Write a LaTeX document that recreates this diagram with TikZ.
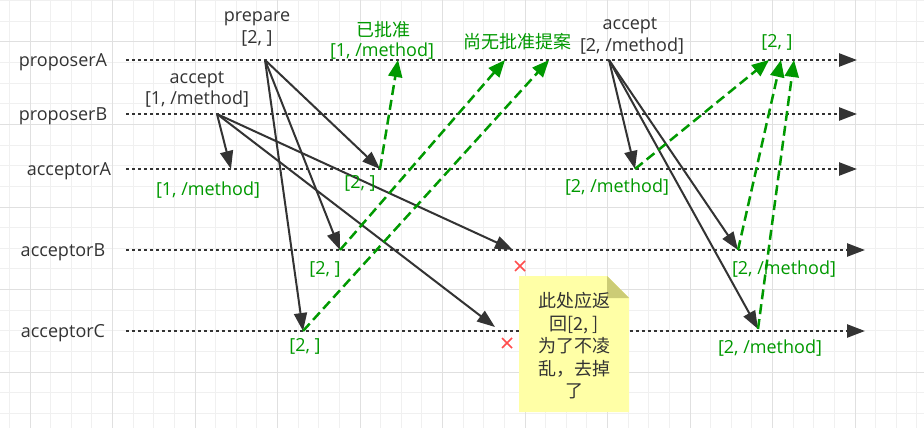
\documentclass[tikz,border=0pt]{standalone}
\usepackage{fontspec}
\setmainfont{Open Sans}
\newfontfamily\cjk{Noto Sans CJK SC}
\usetikzlibrary{arrows.meta,calc}
\definecolor{ink}{HTML}{333333}
\definecolor{grn}{HTML}{009900}
\definecolor{gridminor}{HTML}{F0F0F0}
\definecolor{gridmajor}{HTML}{E0E0E0}
\definecolor{notefill}{HTML}{FFFFA6}
\definecolor{notefold}{HTML}{CCCC76}
\definecolor{xred}{HTML}{FF4D4D}
\begin{document}
\begin{tikzpicture}[x=1pt,y=-1pt,
  lbl/.style={font=\fontsize{18}{21}\selectfont, text=ink, inner sep=0pt, text height=12.8pt, text depth=0pt},
  glbl/.style={lbl, text=grn},
  cjklbl/.style={glbl, font=\cjk\fontsize{18}{21}\selectfont},
  life/.style={draw=ink, line width=2.5pt, dash pattern=on 2.5pt off 3.5pt, -{Triangle[length=18pt,width=13pt]}},
  msg/.style={draw=ink, line width=2pt, -{Triangle[length=18pt,width=13pt]}},
  reply/.style={draw=grn, line width=2.5pt, dash pattern=on 10pt off 5pt, -{Triangle[length=17pt,width=14pt]}},
  xmark/.style={draw=xred, line width=1.5pt},
  ]
\useasboundingbox (0,0) rectangle (924,428);
\fill[white] (0,0) rectangle (924,428);
% grid
\foreach \i in {0,...,44} \draw[gridminor, line width=1pt] ({9.375+20.625*\i},0) -- ({9.375+20.625*\i},428);
\foreach \j in {0,...,20} \draw[gridminor, line width=1pt] (0,{0.75+20.625*\j}) -- (924,{0.75+20.625*\j});
\foreach \x in {30,112.5,195,277.5,360,442.5,525,607.5,690,772.5,855} \draw[gridmajor, line width=1pt] (\x,0) -- (\x,428);
\foreach \y in {42,124.5,207,289.5,372} \draw[gridmajor, line width=1pt] (0,\y) -- (924,\y);

% lifeline labels
\node[lbl] (lpA) at (63,60) {proposerA};
\node[lbl] (lpB) at (63,114) {proposerB};
\node[lbl] (laA) at (69,169) {acceptorA};
\node[lbl] (laB) at (63,250) {acceptorB};
\node[lbl] (laC) at (63,331) {acceptorC};

% lifelines
\coordinate (pA0) at (126,60);  \coordinate (pA1) at (857,60);
\coordinate (pB0) at (126,114); \coordinate (pB1) at (857,114);
\coordinate (aA0) at (126,169); \coordinate (aA1e) at (857,169);
\coordinate (aB0) at (126,250); \coordinate (aB1e) at (865,250);
\coordinate (aC0) at (126,331); \coordinate (aC1e) at (865,331);
\draw[life] (pA0) -- (pA1);
\draw[life] (pB0) -- (pB1);
\draw[life] (aA0) -- (aA1e);
\draw[life] (aB0) -- (aB1e);
\draw[life] (aC0) -- (aC1e);

% event points
\coordinate (prep) at (265,60);
\coordinate (acc1) at (217,114);
\coordinate (acc2) at (609,60);
\coordinate (aAp) at (380,169);
\coordinate (aBp) at (340,250);
\coordinate (aCp) at (303,331);
\coordinate (aA1) at (231,169);
\coordinate (aB1) at (513,250);
\coordinate (aC1) at (495,327);
\coordinate (aA2) at (635,169);
\coordinate (aB2) at (738,250);
\coordinate (aC2) at (758,329);
\coordinate (r1) at (398,60);
\coordinate (r2) at (505,60);
\coordinate (r3) at (549,60);
\coordinate (r4) at (769,60);
\coordinate (r5) at (781,60);
\coordinate (r6) at (794,60);

% black messages
\draw[msg] (prep) -- (aAp);
\draw[msg] (prep) -- (aBp);
\draw[msg] (prep) -- (aCp);
\draw[msg] (acc1) -- (aA1);
\draw[msg] (acc1) -- (aB1);
\draw[msg] (acc1) -- (aC1);
\draw[msg] (acc2) -- (aA2);
\draw[msg] (acc2) -- (aB2);
\draw[msg] (acc2) -- (aC2);

% green replies
\draw[reply] (aAp) -- (r1);
\draw[reply] (aBp) -- (r2);
\draw[reply] (aCp) -- (r3);
\draw[reply] (aA2) -- (r4);
\draw[reply] (aB2) -- (r5);
\draw[reply] (aC2) -- (r6);

% message labels
\node[lbl] (tprep) at (257,15) {prepare};
\node[lbl] (tprep2) at (257,37) {[2, ]};
\node[lbl] (tacc1) at (197,77) {accept};
\node[lbl] (tacc1b) at (197,98) {[1, /method]};
\node[lbl] (tacc2) at (630,23) {accept};
\node[lbl] (tacc2b) at (632,45) {[2, /method]};

% green labels
\node[glbl] (g1) at (208,189) {[1, /method]};
\node[glbl] (g2) at (360,182) {[2, ]};
\node[glbl] (g3) at (325,268) {[2, ]};
\node[glbl] (g4) at (305,345) {[2, ]};
\node[cjklbl] (g5) at (383,30) {已批准};
\node[glbl] (g6) at (382,50) {[1, /method]};
\node[cjklbl] (g7) at (517,42) {尚无批准提案};
\node[glbl] (g8) at (777,41) {[2, ]};
\node[glbl] (g9) at (617,186) {[2, /method]};
\node[glbl] (g10) at (784,268) {[2, /method]};
\node[glbl] (g11) at (770,347) {[2, /method]};

% note
\fill[notefill] (519,276) -- (607,276) -- (629,298) -- (629,412) -- (519,412) -- cycle;
\fill[notefold] (607,276) -- (629,298) -- (607,298) -- cycle;
\node[font=\cjk\fontsize{18}{22.5}\selectfont, text=ink, align=center, inner sep=0pt] (note) at (574,346)
  {此处应返\\回[2, ]\\为了不凌\\乱，去掉\\了};

% red crosses
\coordinate (x1) at (520,266);
\coordinate (x2) at (507,343);
\draw[xmark] ($(x1)+(-5,-5)$) -- ($(x1)+(5,5)$) ($(x1)+(-5,5)$) -- ($(x1)+(5,-5)$);
\draw[xmark] ($(x2)+(-5,-5)$) -- ($(x2)+(5,5)$) ($(x2)+(-5,5)$) -- ($(x2)+(5,-5)$);
\end{tikzpicture}
\end{document}
